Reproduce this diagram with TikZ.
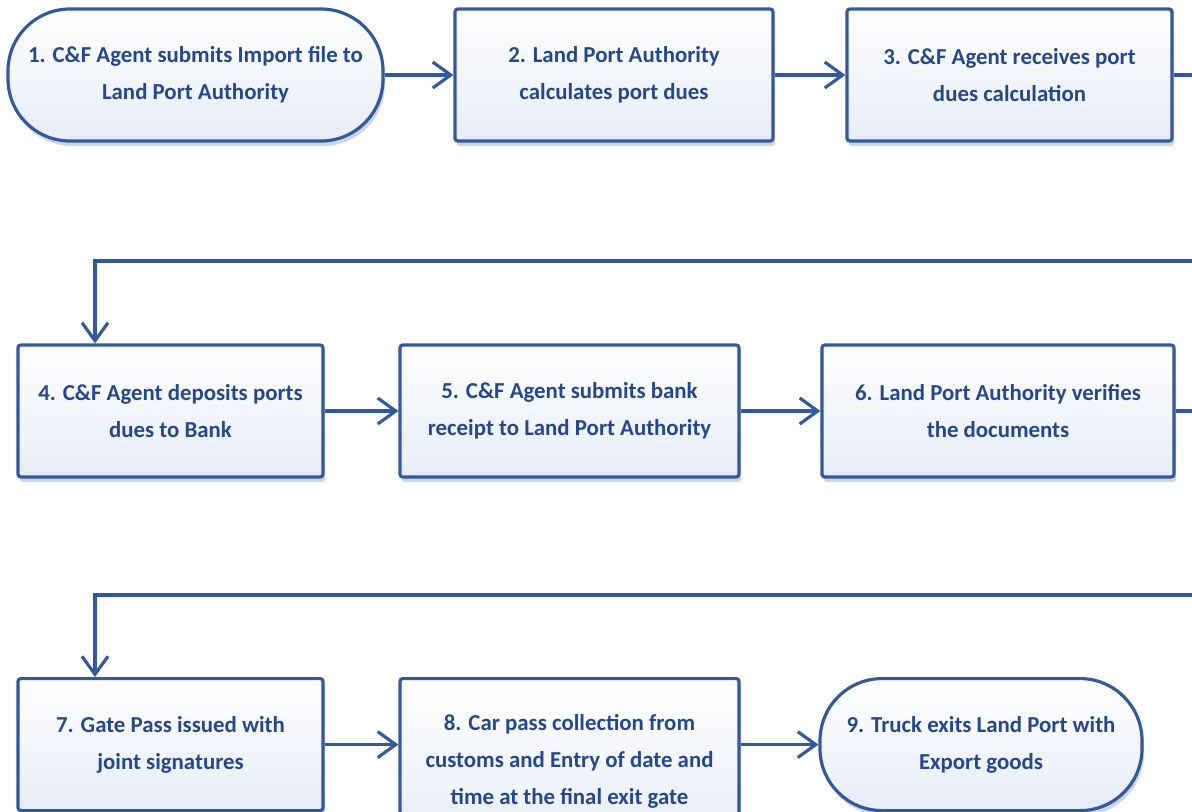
\documentclass[tikz,border=0pt]{standalone}
\usepackage{fontspec}
\setmainfont{Carlito}
\usetikzlibrary{arrows.meta,shadows}

\definecolor{lineblue}{RGB}{50,88,158}
\definecolor{textblue}{RGB}{36,72,144}
\definecolor{boxbot}{RGB}{230,236,247}

\tikzset{
	stepbox/.style={draw=lineblue, line width=0.9pt, rounded corners=0.8pt,
		top color=white, bottom color=boxbot, text=textblue,
		font=\bfseries\fontsize{6.5}{10.6}\selectfont, align=center,
		inner sep=0pt, minimum height=1.32cm,
		drop shadow={shadow xshift=0.2mm, shadow yshift=-0.5mm, opacity=0.25, fill=lineblue}},
	endbox/.style={stepbox, rounded corners=0.62cm},
	flow/.style={draw=lineblue, line width=0.9pt, -{Straight Barb[length=1.8mm,width=2.6mm]}}
}

\begin{document}
\begin{tikzpicture}

	\useasboundingbox (0,0) rectangle (11.92,-8.11);
	\clip (0,0) rectangle (11.92,-8.11);

	% first row
	\node[endbox, minimum width=3.75cm] (b1) at (1.955,-0.75) {1. C\&F Agent submits Import file to\\Land Port Authority};
	\node[stepbox, minimum width=3.18cm] (b2) at (6.14,-0.75) {2. Land Port Authority\\calculates port dues};
	\node[stepbox, minimum width=3.25cm] (b3) at (10.095,-0.75) {3. C\&F Agent receives port\\dues calculation};

	% second row
	\node[stepbox, minimum width=3.05cm] (b4) at (1.705,-4.11) {4. C\&F Agent deposits ports\\dues to Bank};
	\node[stepbox, minimum width=3.39cm] (b5) at (5.695,-4.11) {5. C\&F Agent submits bank\\receipt to Land Port Authority};
	\node[stepbox, minimum width=3.52cm] (b6) at (9.98,-4.11) {6. Land Port Authority verifies\\the documents};

	% third row
	\node[stepbox, anchor=north, minimum width=3.05cm] (b7) at (1.705,-6.77) {7. Gate Pass issued with\\joint signatures};
	\node[stepbox, anchor=north, minimum width=3.39cm, minimum height=1.66cm] (b8) at (5.695,-6.77) {8. Car pass collection from\\customs and Entry of date and\\time at the final exit gate};
	\node[endbox, anchor=north, minimum width=3.22cm] (b9) at (9.81,-6.77) {9. Truck exits Land Port with\\Export goods};

	\coordinate (t1) at (0.95,-2.61);
	\coordinate (t2) at (0.95,-5.95);

	\draw[flow] (b1) -- (b2);
	\draw[flow] (b2) -- (b3);
	\draw[flow] (b3.east) -- ++(0.5,0) |- (t1) -- (t1 |- b4.north);

	\draw[flow] (b4) -- (b5);
	\draw[flow] (b5) -- (b6);
	\draw[flow] (b6.east) -- ++(0.5,0) |- (t2) -- (t2 |- b7.north);

	\draw[flow] (b7.east) -- (b7.east -| b8.west);
	\draw[flow] (b8.east |- b9.west) -- (b9.west);

\end{tikzpicture}
\end{document}
